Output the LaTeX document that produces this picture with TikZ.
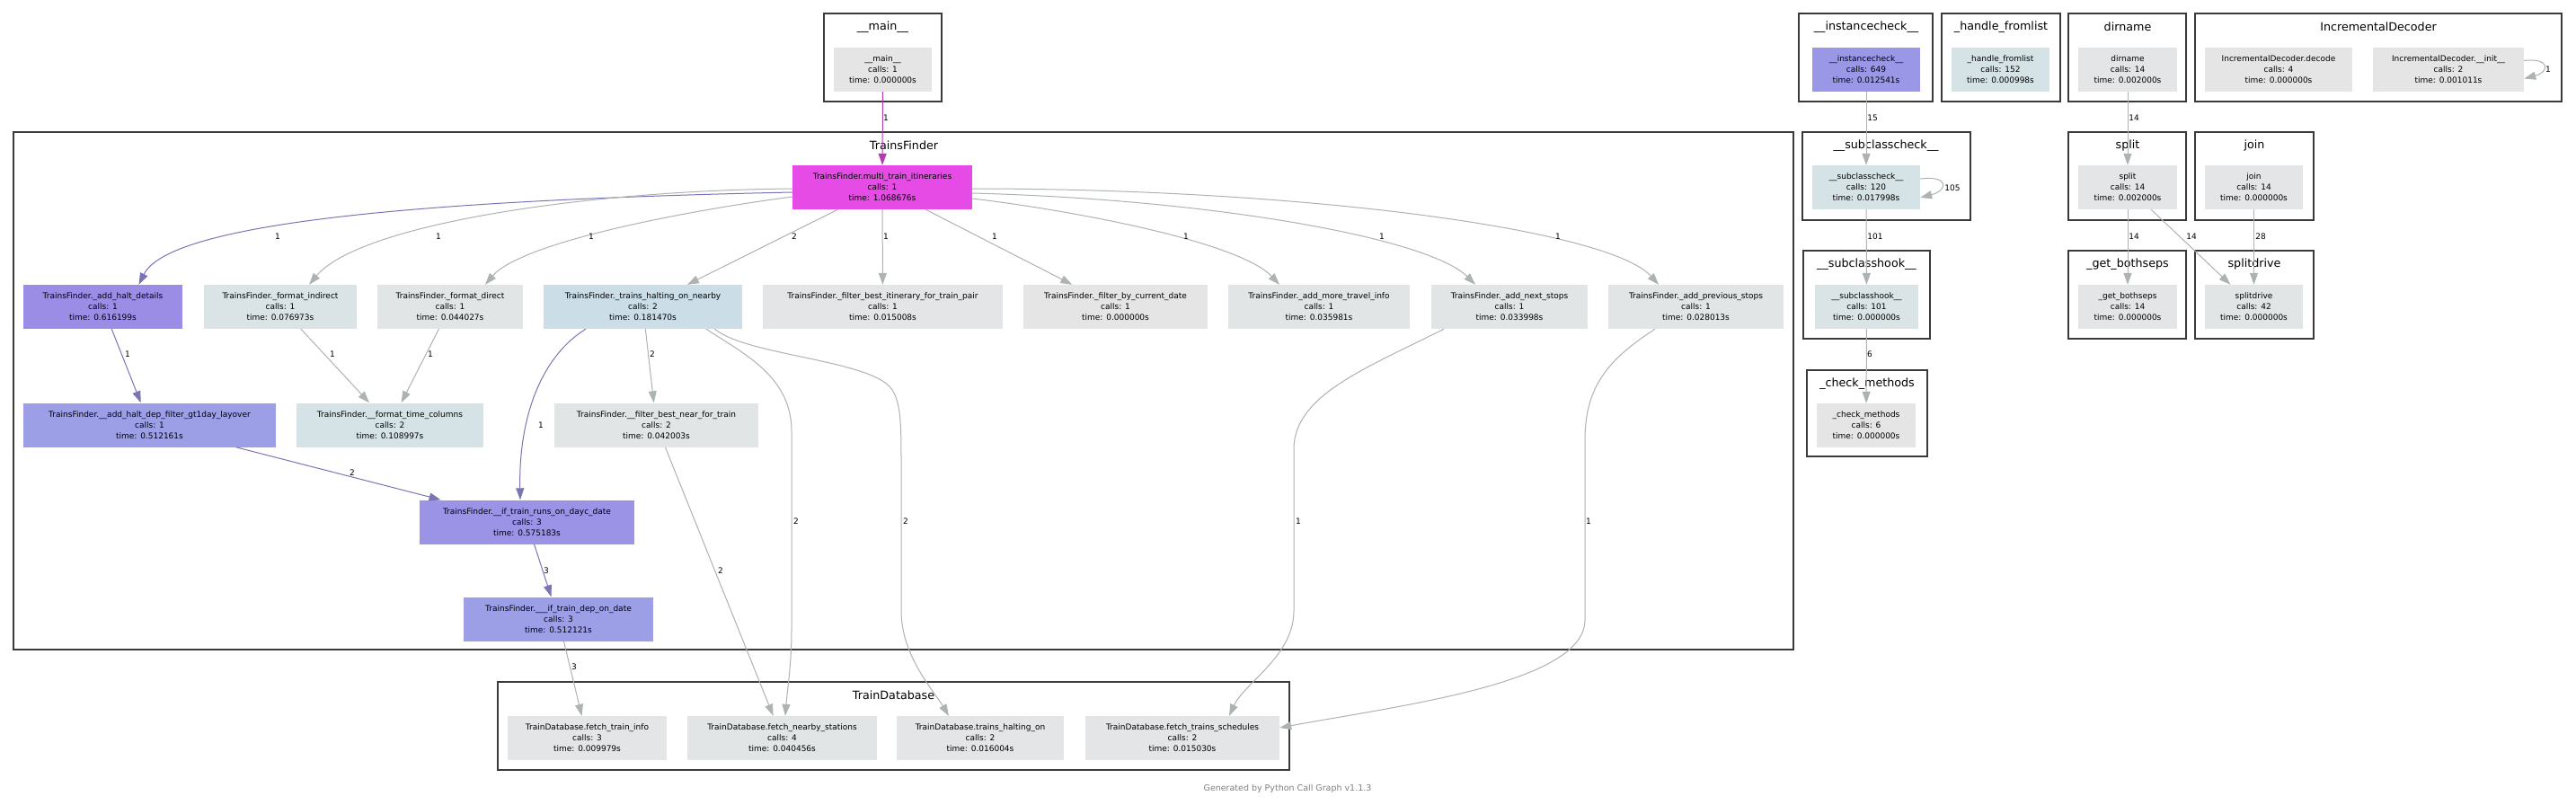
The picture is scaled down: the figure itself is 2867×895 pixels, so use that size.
\documentclass[tikz,border=0pt]{standalone}
\usepackage{fontspec}
\setmainfont{DejaVu Sans}
\usetikzlibrary{arrows.meta}

\newcommand\callfont{\fontsize{9}{12}\selectfont}
\newcommand\grpfont{\fontsize{12.7}{14}\selectfont}

\definecolor{cmulti}{RGB}{230,76,229}
\definecolor{chalt}{RGB}{155,141,230}
\definecolor{cgt}{RGB}{156,159,230}
\definecolor{cruns}{RGB}{154,147,230}
\definecolor{cdep}{RGB}{156,159,230}
\definecolor{cinst}{RGB}{153,151,230}
\definecolor{chn}{RGB}{203,221,230}
\definecolor{cgA}{RGB}{229,229,230}
\definecolor{cgB}{RGB}{227,229,230}
\definecolor{cgC}{RGB}{225,229,230}
\definecolor{cgD}{RGB}{218,228,230}
\definecolor{cgE}{RGB}{213,226,230}
\definecolor{emain}{RGB}{179,59,178}
\definecolor{epurp}{RGB}{121,116,179}
\definecolor{egrey}{RGB}{173,178,179}
\definecolor{grpline}{HTML}{3A3A3A}

\begin{document}
\begin{tikzpicture}[x=1pt,y=-1pt,
  fn/.style={fill=#1, minimum height=49, inner sep=0pt, align=center, font=\callfont},
  grp/.style={draw=grpline, line width=2.5pt},
  glbl/.style={font=\grpfont, inner sep=0pt},
  edge/.style={draw=#1, line width=1pt, -{Triangle[length=13pt,width=9pt]}},
  edge/.default=egrey,
  elbl/.style={font=\callfont, inner sep=0pt}]
  \useasboundingbox[fill=white] (0,0) rectangle (2867,895);

  % groups
  \draw[grp] (917,15) rectangle (1048,113);
  \draw[grp] (15,147) rectangle (1996,723);
  \draw[grp] (554,759) rectangle (1435,857);
  \draw[grp] (2002,15) rectangle (2151,113);
  \draw[grp] (2161,15) rectangle (2293,113);
  \draw[grp] (2302,15) rectangle (2433,113);
  \draw[grp] (2443,15) rectangle (2851,113);
  \draw[grp] (2006,147) rectangle (2193,245);
  \draw[grp] (2302,147) rectangle (2433,245);
  \draw[grp] (2443,147) rectangle (2575,245);
  \draw[grp] (2007,279) rectangle (2148,377);
  \draw[grp] (2302,279) rectangle (2433,377);
  \draw[grp] (2443,279) rectangle (2575,377);
  \draw[grp] (2011,412) rectangle (2145,508);
  \node[glbl] (gmain) at (982.5,30) {\_\_main\_\_};
  \node[glbl] (gtf) at (1006,162) {TrainsFinder};
  \node[glbl] (gtd) at (994.5,774) {TrainDatabase};
  \node[glbl] (ginst) at (2077,30) {\_\_instancecheck\_\_};
  \node[glbl] (gfrom) at (2227,30) {\_handle\_fromlist};
  \node[glbl] (gdirn) at (2368,30) {dirname};
  \node[glbl] (gdec) at (2647,30) {IncrementalDecoder};
  \node[glbl] (gsubc) at (2099,162) {\_\_subclasscheck\_\_};
  \node[glbl] (gsplit) at (2368,162) {split};
  \node[glbl] (gjoin) at (2509,162) {join};
  \node[glbl] (gsubh) at (2077.5,294) {\_\_subclasshook\_\_};
  \node[glbl] (gboth) at (2368,294) {\_get\_bothseps};
  \node[glbl] (gsdr) at (2509,294) {splitdrive};
  \node[glbl] (gchk) at (2078,427) {\_check\_methods};

  % functions
  \node[fn=cgA, minimum width=109] (main) at (982.5,77.5) {\_\_main\_\_\\calls: 1\\time: 0.000000s};
  \node[fn=cmulti, minimum width=200] (multi) at (982,208.5) {TrainsFinder.multi\_train\_itineraries\\calls: 1\\time: 1.068676s};
  \node[fn=chalt, minimum width=177] (halt) at (114.5,341.5) {TrainsFinder.\_add\_halt\_details\\calls: 1\\time: 0.616199s};
  \node[fn=cgD, minimum width=170] (find) at (312,341.5) {TrainsFinder.\_format\_indirect\\calls: 1\\time: 0.076973s};
  \node[fn=cgC, minimum width=162] (fdir) at (501,341.5) {TrainsFinder.\_format\_direct\\calls: 1\\time: 0.044027s};
  \node[fn=chn, minimum width=221] (hn) at (715.5,341.5) {TrainsFinder.\_trains\_halting\_on\_nearby\\calls: 2\\time: 0.181470s};
  \node[fn=cgB, minimum width=267] (bitin) at (982.5,341.5) {TrainsFinder.\_filter\_best\_itinerary\_for\_train\_pair\\calls: 1\\time: 0.015008s};
  \node[fn=cgA, minimum width=205] (bydate) at (1241.5,341.5) {TrainsFinder.\_filter\_by\_current\_date\\calls: 1\\time: 0.000000s};
  \node[fn=cgC, minimum width=202] (more) at (1468,341.5) {TrainsFinder.\_add\_more\_travel\_info\\calls: 1\\time: 0.035981s};
  \node[fn=cgC, minimum width=174] (next) at (1680,341.5) {TrainsFinder.\_add\_next\_stops\\calls: 1\\time: 0.033998s};
  \node[fn=cgC, minimum width=195] (prev) at (1887.5,341.5) {TrainsFinder.\_add\_previous\_stops\\calls: 1\\time: 0.028013s};
  \node[fn=cgt, minimum width=281] (gt) at (166.5,473) {TrainsFinder.\_\_add\_halt\_dep\_filter\_gt1day\_layover\\calls: 1\\time: 0.512161s};
  \node[fn=cgE, minimum width=208] (ftc) at (434,473) {TrainsFinder.\_\_format\_time\_columns\\calls: 2\\time: 0.108997s};
  \node[fn=cgC, minimum width=227] (bnear) at (730.5,473) {TrainsFinder.\_\_filter\_best\_near\_for\_train\\calls: 2\\time: 0.042003s};
  \node[fn=cruns, minimum width=239] (runs) at (586.5,581) {TrainsFinder.\_\_if\_train\_runs\_on\_dayc\_date\\calls: 3\\time: 0.575183s};
  \node[fn=cdep, minimum width=211] (dep) at (621.5,689) {TrainsFinder.\_\_\_if\_train\_dep\_on\_date\\calls: 3\\time: 0.512121s};
  \node[fn=cgB, minimum width=177] (tinfo) at (653.5,821.5) {TrainDatabase.fetch\_train\_info\\calls: 3\\time: 0.009979s};
  \node[fn=cgC, minimum width=211] (nearby) at (870.5,821.5) {TrainDatabase.fetch\_nearby\_stations\\calls: 4\\time: 0.040456s};
  \node[fn=cgB, minimum width=186] (halton) at (1091,821.5) {TrainDatabase.trains\_halting\_on\\calls: 2\\time: 0.016004s};
  \node[fn=cgB, minimum width=216] (sched) at (1316,821.5) {TrainDatabase.fetch\_trains\_schedules\\calls: 2\\time: 0.015030s};
  \node[fn=cinst, minimum width=120] (inst) at (2077,77.5) {\_\_instancecheck\_\_\\calls: 649\\time: 0.012541s};
  \node[fn=cgE, minimum width=109] (froml) at (2226.5,77.5) {\_handle\_fromlist\\calls: 152\\time: 0.000998s};
  \node[fn=cgB, minimum width=110] (dirn) at (2368,77.5) {dirname\\calls: 14\\time: 0.002000s};
  \node[fn=cgA, minimum width=164] (decode) at (2536,77.5) {IncrementalDecoder.decode\\calls: 4\\time: 0.000000s};
  \node[fn=cgA, minimum width=168] (init) at (2725,77.5) {IncrementalDecoder.\_\_init\_\_\\calls: 2\\time: 0.001011s};
  \node[fn=cgE, minimum width=120] (subc) at (2077,208.5) {\_\_subclasscheck\_\_\\calls: 120\\time: 0.017998s};
  \node[fn=cgB, minimum width=110] (split) at (2368,208.5) {split\\calls: 14\\time: 0.002000s};
  \node[fn=cgB, minimum width=109] (join) at (2508.5,208.5) {join\\calls: 14\\time: 0.000000s};
  \node[fn=cgD, minimum width=115] (subh) at (2077.5,341.5) {\_\_subclasshook\_\_\\calls: 101\\time: 0.000000s};
  \node[fn=cgB, minimum width=110] (both) at (2368,341.5) {\_get\_bothseps\\calls: 14\\time: 0.000000s};
  \node[fn=cgC, minimum width=109] (sdrive) at (2508.5,341.5) {splitdrive\\calls: 42\\time: 0.000000s};
  \node[fn=cgA, minimum width=110] (chk) at (2077,473.5) {\_check\_methods\\calls: 6\\time: 0.000000s};

  % calls
  \draw[edge=emain] (main) -- (multi) node[elbl] at (986,131) {1};
  \draw[edge=epurp] ([yshift=-5.5pt]multi.west) .. controls (500,222) and (190,245) .. ([xshift=40pt]halt.north) node[elbl] at (309,263) {1};
  \draw[edge] ([yshift=-1.5pt]multi.west) .. controls (650,212) and (400,250) .. ([xshift=32pt]find.north) node[elbl] at (488,263) {1};
  \draw[edge] ([yshift=-10.5pt]multi.west) .. controls (760,235) and (580,270) .. ([xshift=39pt]fdir.north) node[elbl] at (658,263) {1};
  \draw[edge] (multi) -- (hn) node[elbl] at (884,263) {2};
  \draw[edge] (multi) -- (bitin) node[elbl] at (986,263) {1};
  \draw[edge] (multi) -- (bydate) node[elbl] at (1107,263) {1};
  \draw[edge] ([yshift=-12.5pt]multi.east) .. controls (1200,235) and (1380,270) .. ([xshift=-44pt]more.north) node[elbl] at (1320,263) {1};
  \draw[edge] ([yshift=-6.5pt]multi.east) .. controls (1350,222) and (1590,265) .. ([xshift=-38pt]next.north) node[elbl] at (1538,263) {1};
  \draw[edge] ([yshift=-1.5pt]multi.east) .. controls (1450,210) and (1790,255) .. ([xshift=-41.5pt]prev.north) node[elbl] at (1734,263) {1};
  \draw[edge=epurp] (halt) -- (gt) node[elbl] at (142,394) {1};
  \draw[edge] (find) -- (ftc) node[elbl] at (370,394) {1};
  \draw[edge] (fdir) -- (ftc) node[elbl] at (479,394) {1};
  \draw[edge] (hn) -- (bnear) node[elbl] at (726,394) {2};
  \draw[edge=epurp] ([xshift=-63.5pt]hn.south) .. controls (605,395) and (577,460) .. ([xshift=-7.5pt]runs.north) node[elbl] at (602,473) {1};
  \draw[edge=epurp] (gt) -- (runs) node[elbl] at (392,526) {2};
  \draw[edge=epurp] (runs) -- (dep) node[elbl] at (608,635) {3};
  \draw[edge] (dep) -- (tinfo) node[elbl] at (639,742) {3};
  \draw[edge] (bnear) -- (nearby) node[elbl] at (802,635) {2};
  \draw[edge] ([xshift=70.5pt]hn.south) .. controls (830,395) and (881,420) .. (881,480) -- (881,700) .. controls (881,740) and (876,770) .. ([xshift=3.5pt]nearby.north) node[elbl] at (886,580) {2};
  \draw[edge] ([xshift=80pt]hn.south) .. controls (830,395) and (960,400) .. (990,430) .. controls (1003,445) and (1003,470) .. (1003,520) -- (1003,680) .. controls (1003,730) and (1040,770) .. ([xshift=-35pt]halton.north) node[elbl] at (1008,580) {2};
  \draw[edge] ([xshift=-73pt]next.south) .. controls (1520,410) and (1440,440) .. (1440,500) -- (1440,680) .. controls (1440,730) and (1385,760) .. ([xshift=52pt]sched.north) node[elbl] at (1445,580) {1};
  \draw[edge] ([xshift=-45.5pt]prev.south) .. controls (1790,400) and (1764,430) .. (1764,490) -- (1764,690) .. controls (1764,760) and (1560,785) .. ([yshift=11.5pt]sched.east) node[elbl] at (1768,580) {1};
  \draw[edge] (inst) -- (subc) node[elbl] at (2084,131) {15};
  \draw[edge] ([yshift=9.5pt]subc.east) .. controls (2170,195) and (2168,212) .. ([yshift=-11.5pt]subc.east) node[elbl] at (2173,209) {105};
  \draw[edge] (subc) -- (subh) node[elbl] at (2087,263) {101};
  \draw[edge] (subh) -- (chk) node[elbl] at (2081,394) {6};
  \draw[edge] (dirn) -- (split) node[elbl] at (2375,131) {14};
  \draw[edge] (split) -- (both) node[elbl] at (2375,263) {14};
  \draw[edge] (split) -- (sdrive) node[elbl] at (2439,263) {14};
  \draw[edge] (join) -- (sdrive) node[elbl] at (2516,263) {28};
  \draw[edge] ([yshift=10pt]init.east) .. controls (2838,64) and (2838,80) .. ([yshift=-10pt]init.east) node[elbl] at (2836,77) {1};

  \node[font=\fontsize{9.5}{11}\selectfont, text=gray] (credit) at (1433,878) {Generated by Python Call Graph v1.1.3};
\end{tikzpicture}
\end{document}
